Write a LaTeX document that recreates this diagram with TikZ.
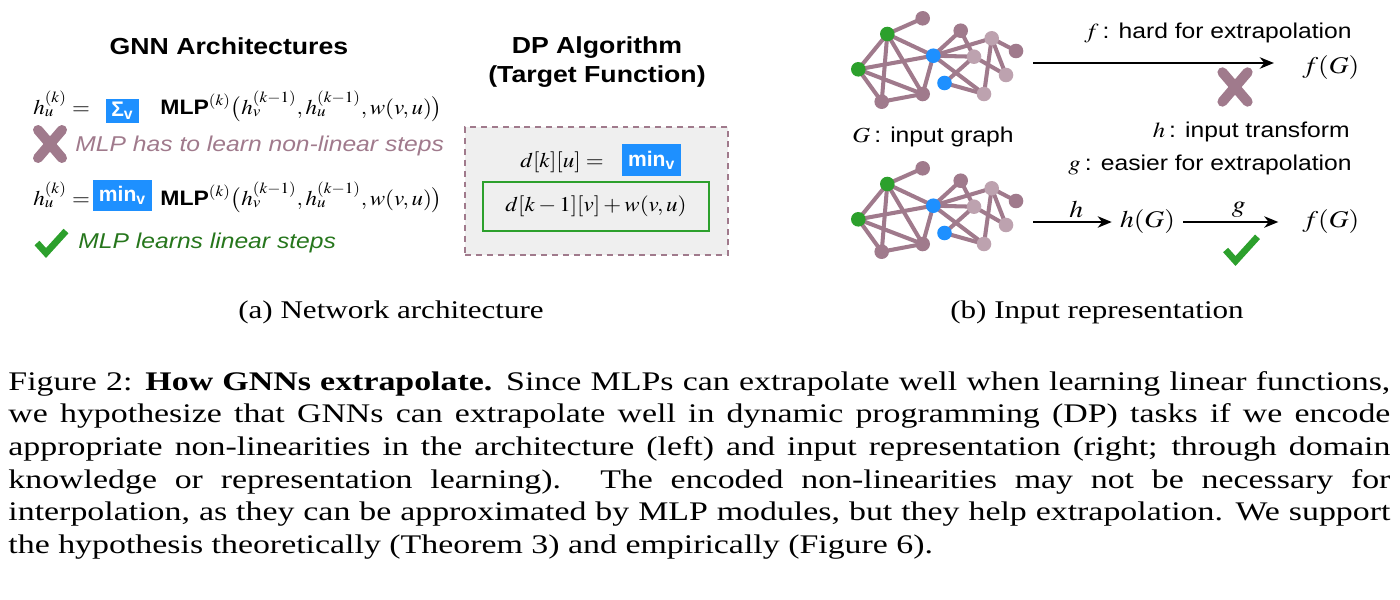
\documentclass[tikz,border=0pt]{standalone}
\usepackage{mathptmx}
\usepackage[no-math]{fontspec}
\setmainfont{Liberation Serif}
\setsansfont{Liberation Sans}
\usepackage{tikz}
\usetikzlibrary{arrows.meta, positioning, calc, backgrounds}

\definecolor{mauve}{RGB}{160,122,140}
\definecolor{gnngreen}{RGB}{44,160,44}
\definecolor{txtgreen}{RGB}{38,118,28}
\definecolor{gnnblue}{RGB}{30,144,255}
\definecolor{boxgray}{RGB}{239,239,239}

\tolerance=9999

\tikzset{
  wide/.style={xscale=1.15, inner sep=0pt},
  heading/.style={wide, align=center, font=\fontsize{13.2}{17}\selectfont\sffamily\bfseries},
  sidetext/.style={wide, font=\fontsize{12.2}{14.6}\selectfont\sffamily},
  slanttext/.style={wide, font=\fontsize{12.2}{14.6}\selectfont\sffamily\itshape},
  eqtext/.style={xscale=1.1, inner sep=0pt, font=\fontsize{11.9}{14.3}\selectfont},
  bigeq/.style={wide, font=\fontsize{13.6}{16}\selectfont},
  opbox/.style={fill=gnnblue, text=white, inner sep=0pt, font=\fontsize{12}{14}\selectfont\sffamily\bfseries},
  dpframe/.style={draw=mauve, fill=boxgray, line width=1.1pt, dash pattern=on 3.4pt off 2.8pt, inner sep=0pt},
  vertex/.style={circle, fill=mauve, inner sep=0pt, minimum size=8.3pt},
  srcv/.style={vertex, fill=gnngreen},
  hubv/.style={vertex, fill=gnnblue},
  farv/.style={vertex, fill=mauve!70!white},
  link/.style={mauve, line width=2.3pt},
  mapto/.style={-{Stealth[length=8pt, width=6.5pt, inset=2.5pt]}, line width=1.1pt},
  capsub/.style={xscale=1.22, inner sep=0pt, font=\fontsize{14.5}{17}\selectfont},
  captext/.style={xscale=1.26, inner sep=0pt, font=\fontsize{15.3}{18.6}\selectfont},
  crossmark/.pic={\draw[mauve, line width=5.7pt, line cap=round] (-12,-14) -- (12,14) (12,-14) -- (-12,14);},
  tickmark/.pic={\draw[gnngreen, line width=3.8pt] (-14,0) -- (-5,10) -- (15,-12);},
}

\begin{document}
\begin{tikzpicture}[x=0.02cm, y=-0.02cm]
    \useasboundingbox (0,0) rectangle (1400,599);

    % GNN architectures
    \node[heading] (archhead) at (229,46) {GNN Architectures};
    \node[eqtext, anchor=base west] (lhsa) at (33,114) {$h_u^{(k)} =$};
    \node[opbox, minimum width=18.8pt, minimum height=13.7pt] (sumbox) at (122.5,111) {Σ\textsubscript{v}};
    \node[eqtext, anchor=base west] (rhsa) at (160,114) {$\textsf{\bfseries MLP}^{(k)}\big(h_v^{(k-1)}, h_u^{(k-1)}, w(v,u)\big)$};
    \pic at (50,144) {crossmark};
    \node[slanttext, mauve, anchor=west] (nonlin) at (75,146) {MLP has to learn non-linear steps};

    \node[eqtext, anchor=base west] (lhsb) at (33,205) {$h_u^{(k)} =$};
    \node[opbox, minimum width=33.6pt, minimum height=18.2pt] (minbox) at (122.5,195.5) {min\textsubscript{v}};
    \node[eqtext, anchor=base west] (rhsb) at (160,205) {$\textsf{\bfseries MLP}^{(k)}\big(h_v^{(k-1)}, h_u^{(k-1)}, w(v,u)\big)$};
    \pic at (51,243) {tickmark};
    \node[slanttext, txtgreen, anchor=west] (lin) at (78,243) {MLP learns linear steps};

    % DP algorithm
    \node[heading] (dphead) at (597,62) {DP Algorithm\\(Target Function)};
    \node[dpframe, minimum width=149.6pt, minimum height=72.8pt] (dpbox) at (596.5,191) {};
    \node[eqtext, anchor=base west] (dplhs) at (520,167) {$d[k][u] =$};
    \node[opbox, minimum width=33.6pt, minimum height=18.2pt] (dpmin) at (651.7,160) {min\textsubscript{v}};
    \node[eqtext, draw=gnngreen, line width=1.4pt, fill=boxgray, minimum width=116.9pt, minimum height=27.9pt] (dpterm) at (596,206.5) {$d[k-1][v] + w(v,u)$};

    % Input graphs
    \foreach \g/\dy in {a/0, b/150} {
        \begin{scope}[shift={(0,\dy)}]
            \node[vertex] (\g1) at (922.7,18.3) {};
            \node[srcv] (\g2) at (887.3,34) {};
            \node[srcv] (\g3) at (858.3,69.3) {};
            \node[vertex] (\g4) at (881.7,101.7) {};
            \node[vertex] (\g5) at (922.7,94) {};
            \node[hubv] (\g6) at (933.3,55.7) {};
            \node[hubv] (\g7) at (944.5,83) {};
            \node[vertex] (\g8) at (960.7,30.7) {};
            \node[farv] (\g9) at (991.7,38.3) {};
            \node[vertex] (\g10) at (1016,51) {};
            \node[farv] (\g11) at (974,56.7) {};
            \node[farv] (\g12) at (1006,75) {};
            \node[farv] (\g13) at (984,94) {};
        \end{scope}
        \begin{scope}[on background layer]
            \foreach \p/\q in {1/2, 2/3, 2/4, 2/5, 2/6, 3/4, 3/5, 3/6, 4/5, 5/6, 6/8, 6/9, 6/11, 6/13, 7/11, 7/13, 8/11, 9/10, 9/12, 9/13, 11/12}
                \draw[link] (\g\p.center) -- (\g\q.center);
        \end{scope}
    }
    \node[sidetext] (glabel) at (933,137) {$G$\,: input graph};

    % Direct map
    \coordinate (gaout) at (1033,63);
    \node[bigeq, anchor=west] (fga) at (1302,68) {$f(G)$};
    \draw[mapto, shorten >=16pt] (gaout) -- (gaout -| fga.west);
    \node[sidetext, anchor=east] (fhard) at (1352,33) {$f$\,: hard for extrapolation};
    \pic[scale=1.05] at (1235,87) {crossmark};

    % Transformed map
    \node[sidetext, anchor=east] (hinput) at (1350,132) {$h$\,: input transform};
    \node[sidetext, anchor=east] (geasy) at (1352,165) {$g$\,: easier for extrapolation};
    \coordinate (gbout) at (1033,222);
    \node[bigeq] (hgb) at (1147.5,222) {$h(G)$};
    \node[bigeq, anchor=west] (fgb) at (1302,222) {$f(G)$};
    \draw[mapto, shorten >=4.5pt] (gbout) -- (hgb) node[bigeq, midway, above=2pt] (hlab) {$h$};
    \draw[mapto, shorten <=4.5pt, shorten >=13.5pt] (hgb) -- (fgb) node[bigeq, midway, above=2pt] (glab) {$g$};
    \pic[scale=1.1] at (1241,250) {tickmark};

    % Captions
    \node[capsub, anchor=base] (suba) at (391,318) {(a) Network architecture};
    \node[capsub, anchor=base] (subb) at (1097,318) {(b) Input representation};
    \node[captext, anchor=base west, text width=21.94cm, align=justify] (caption) at (8,390) {Figure 2: \textbf{How GNNs extrapolate.} Since MLPs can extrapolate well when learning linear functions,\linebreak we hypothesize that GNNs can extrapolate well in dynamic programming (DP) tasks if we encode\linebreak appropriate non-linearities in the architecture (left) and input representation (right; through domain\linebreak knowledge or representation learning).  The encoded non-linearities may not be necessary for\linebreak interpolation, as they can be approximated by MLP modules, but they help extrapolation. We support\linebreak the hypothesis theoretically (Theorem 3) and empirically (Figure 6).};
\end{tikzpicture}
\end{document}
